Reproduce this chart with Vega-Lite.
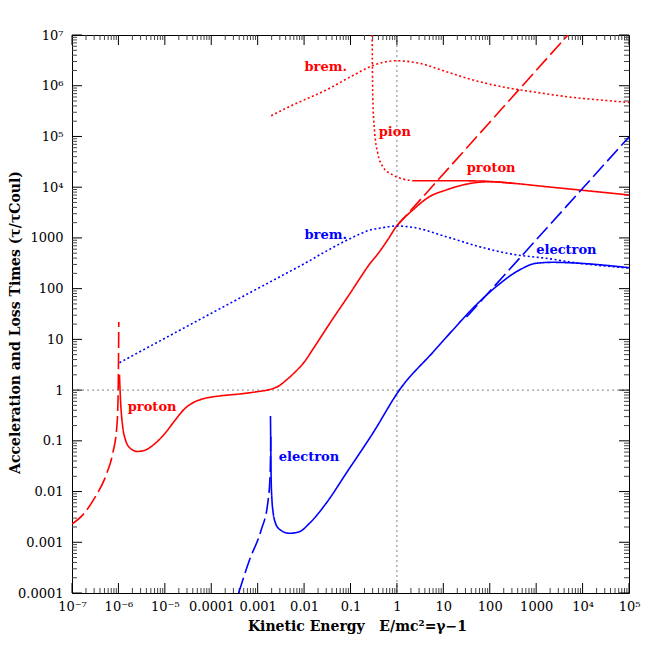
{
  "$schema": "https://vega.github.io/schema/vega-lite/v6.json",
  "width": 557,
  "height": 558,
  "autosize": {"type": "none"},
  "padding": {"left": 72, "top": 35, "right": 35, "bottom": 71},
  "background": "white",
  "config": {
    "view": {"stroke": "#000", "strokeWidth": 1},
    "axis": {"labelFont": "DejaVu Serif", "titleFont": "DejaVu Serif", "labelColor": "#000", "titleColor": "#000"}
  },
  "datasets": {
    "refs": [{"v": 1}],
    "xmaj": [{"v": 1e-7}, {"v": 1e-6}, {"v": 1e-5}, {"v": 0.0001}, {"v": 0.001}, {"v": 0.01}, {"v": 0.1}, {"v": 1}, {"v": 10}, {"v": 100}, {"v": 1000}, {"v": 10000}, {"v": 100000}],
    "ymaj": [{"v": 0.0001}, {"v": 0.001}, {"v": 0.01}, {"v": 0.1}, {"v": 1}, {"v": 10}, {"v": 100}, {"v": 1000}, {"v": 10000}, {"v": 100000}, {"v": 1000000}, {"v": 10000000}],
    "xmin": [
      {"v": 2e-7}, {"v": 3e-7}, {"v": 4e-7}, {"v": 5e-7}, {"v": 6e-7}, {"v": 7e-7}, {"v": 8e-7}, {"v": 9e-7},
      {"v": 2e-6}, {"v": 3e-6}, {"v": 4e-6}, {"v": 5e-6}, {"v": 6e-6}, {"v": 7e-6}, {"v": 8e-6}, {"v": 9e-6},
      {"v": 2e-5}, {"v": 3e-5}, {"v": 4e-5}, {"v": 5e-5}, {"v": 6e-5}, {"v": 7e-5}, {"v": 8e-5}, {"v": 9e-5},
      {"v": 0.0002}, {"v": 0.0003}, {"v": 0.0004}, {"v": 0.0005}, {"v": 0.0006}, {"v": 0.0007}, {"v": 0.0008}, {"v": 0.0009},
      {"v": 0.002}, {"v": 0.003}, {"v": 0.004}, {"v": 0.005}, {"v": 0.006}, {"v": 0.007}, {"v": 0.008}, {"v": 0.009},
      {"v": 0.02}, {"v": 0.03}, {"v": 0.04}, {"v": 0.05}, {"v": 0.06}, {"v": 0.07}, {"v": 0.08}, {"v": 0.09},
      {"v": 0.2}, {"v": 0.3}, {"v": 0.4}, {"v": 0.5}, {"v": 0.6}, {"v": 0.7}, {"v": 0.8}, {"v": 0.9},
      {"v": 2}, {"v": 3}, {"v": 4}, {"v": 5}, {"v": 6}, {"v": 7}, {"v": 8}, {"v": 9},
      {"v": 20}, {"v": 30}, {"v": 40}, {"v": 50}, {"v": 60}, {"v": 70}, {"v": 80}, {"v": 90},
      {"v": 200}, {"v": 300}, {"v": 400}, {"v": 500}, {"v": 600}, {"v": 700}, {"v": 800}, {"v": 900},
      {"v": 2000}, {"v": 3000}, {"v": 4000}, {"v": 5000}, {"v": 6000}, {"v": 7000}, {"v": 8000}, {"v": 9000},
      {"v": 20000}, {"v": 30000}, {"v": 40000}, {"v": 50000}, {"v": 60000}, {"v": 70000}, {"v": 80000}, {"v": 90000}
    ],
    "ymin": [
      {"v": 0.0002}, {"v": 0.0003}, {"v": 0.0004}, {"v": 0.0005}, {"v": 0.0006}, {"v": 0.0007}, {"v": 0.0008}, {"v": 0.0009},
      {"v": 0.002}, {"v": 0.003}, {"v": 0.004}, {"v": 0.005}, {"v": 0.006}, {"v": 0.007}, {"v": 0.008}, {"v": 0.009},
      {"v": 0.02}, {"v": 0.03}, {"v": 0.04}, {"v": 0.05}, {"v": 0.06}, {"v": 0.07}, {"v": 0.08}, {"v": 0.09},
      {"v": 0.2}, {"v": 0.3}, {"v": 0.4}, {"v": 0.5}, {"v": 0.6}, {"v": 0.7}, {"v": 0.8}, {"v": 0.9},
      {"v": 2}, {"v": 3}, {"v": 4}, {"v": 5}, {"v": 6}, {"v": 7}, {"v": 8}, {"v": 9},
      {"v": 20}, {"v": 30}, {"v": 40}, {"v": 50}, {"v": 60}, {"v": 70}, {"v": 80}, {"v": 90},
      {"v": 200}, {"v": 300}, {"v": 400}, {"v": 500}, {"v": 600}, {"v": 700}, {"v": 800}, {"v": 900},
      {"v": 2000}, {"v": 3000}, {"v": 4000}, {"v": 5000}, {"v": 6000}, {"v": 7000}, {"v": 8000}, {"v": 9000},
      {"v": 20000}, {"v": 30000}, {"v": 40000}, {"v": 50000}, {"v": 60000}, {"v": 70000}, {"v": 80000}, {"v": 90000},
      {"v": 200000}, {"v": 300000}, {"v": 400000}, {"v": 500000}, {"v": 600000}, {"v": 700000}, {"v": 800000}, {"v": 900000},
      {"v": 2000000}, {"v": 3000000}, {"v": 4000000}, {"v": 5000000}, {"v": 6000000}, {"v": 7000000}, {"v": 8000000}, {"v": 9000000}
    ],
    "labels": [
      {"t": "brem.", "p": "proton", "x": 0.0102, "y": 2340000},
      {"t": "pion", "p": "proton", "x": 0.406, "y": 122000},
      {"t": "proton", "p": "proton", "x": 32.0, "y": 23900},
      {"t": "brem.", "p": "electron", "x": 0.0102, "y": 1143},
      {"t": "electron", "p": "electron", "x": 1000, "y": 578},
      {"t": "proton", "p": "proton", "x": 1.59e-6, "y": 0.464},
      {"t": "electron", "p": "electron", "x": 0.00285, "y": 0.048}
    ],
    "curves": [
      {"c": "pS", "p": "proton", "k": "solid", "x": 1.054e-6, "y": 1.995},
      {"c": "pS", "p": "proton", "k": "solid", "x": 1.109e-6, "y": 0.638},
      {"c": "pS", "p": "proton", "k": "solid", "x": 1.2246e-6, "y": 0.2051},
      {"c": "pS", "p": "proton", "k": "solid", "x": 1.422e-6, "y": 0.104},
      {"c": "pS", "p": "proton", "k": "solid", "x": 1.82e-6, "y": 0.0706},
      {"c": "pS", "p": "proton", "k": "solid", "x": 2.576e-6, "y": 0.0617},
      {"c": "pS", "p": "proton", "k": "solid", "x": 3.828e-6, "y": 0.0659},
      {"c": "pS", "p": "proton", "k": "solid", "x": 5.984e-6, "y": 0.0867},
      {"c": "pS", "p": "proton", "k": "solid", "x": 9.84e-6, "y": 0.1365},
      {"c": "pS", "p": "proton", "k": "solid", "x": 1.614e-5, "y": 0.246},
      {"c": "pS", "p": "proton", "k": "solid", "x": 2.649e-5, "y": 0.4246},
      {"c": "pS", "p": "proton", "k": "solid", "x": 4.355e-5, "y": 0.5834},
      {"c": "pS", "p": "proton", "k": "solid", "x": 7.145e-5, "y": 0.684},
      {"c": "pS", "p": "proton", "k": "solid", "x": 1.507e-4, "y": 0.766},
      {"c": "pS", "p": "proton", "k": "solid", "x": 4.064e-4, "y": 0.8375},
      {"c": "pS", "p": "proton", "k": "solid", "x": 9.91e-4, "y": 0.933},
      {"c": "pS", "p": "proton", "k": "solid", "x": 1.799e-3, "y": 1.023},
      {"c": "pS", "p": "proton", "k": "solid", "x": 2.951e-3, "y": 1.23},
      {"c": "pS", "p": "proton", "k": "solid", "x": 4.169e-3, "y": 1.585},
      {"c": "pS", "p": "proton", "k": "solid", "x": 6.31e-3, "y": 2.239},
      {"c": "pS", "p": "proton", "k": "solid", "x": 0.01, "y": 3.548},
      {"c": "pS", "p": "proton", "k": "solid", "x": 0.01585, "y": 6.607},
      {"c": "pS", "p": "proton", "k": "solid", "x": 0.02512, "y": 12.59},
      {"c": "pS", "p": "proton", "k": "solid", "x": 0.03981, "y": 23.99},
      {"c": "pS", "p": "proton", "k": "solid", "x": 0.0631, "y": 44.67},
      {"c": "pS", "p": "proton", "k": "solid", "x": 0.1, "y": 83.18},
      {"c": "pS", "p": "proton", "k": "solid", "x": 0.1585, "y": 158.5},
      {"c": "pS", "p": "proton", "k": "solid", "x": 0.2512, "y": 295.1},
      {"c": "pS", "p": "proton", "k": "solid", "x": 0.4207, "y": 534.6},
      {"c": "pS", "p": "proton", "k": "solid", "x": 0.631, "y": 912},
      {"c": "pS", "p": "proton", "k": "solid", "x": 0.9638, "y": 1663},
      {"c": "pS", "p": "proton", "k": "solid", "x": 2.198, "y": 3548},
      {"c": "pS", "p": "proton", "k": "solid", "x": 5.035, "y": 6501},
      {"c": "pS", "p": "proton", "k": "solid", "x": 11.51, "y": 8810},
      {"c": "pS", "p": "proton", "k": "solid", "x": 26.24, "y": 11040},
      {"c": "pS", "p": "proton", "k": "solid", "x": 98.6, "y": 12823},
      {"c": "pS", "p": "proton", "k": "solid", "x": 313.3, "y": 11940},
      {"c": "pS", "p": "proton", "k": "solid", "x": 1641, "y": 10233},
      {"c": "pS", "p": "proton", "k": "solid", "x": 8570, "y": 8810},
      {"c": "pS", "p": "proton", "k": "solid", "x": 100000, "y": 7015},
      {"c": "pS2", "p": "proton", "k": "solid", "x": 2.198, "y": 13428},
      {"c": "pS2", "p": "proton", "k": "solid", "x": 11.51, "y": 13428},
      {"c": "pS2", "p": "proton", "k": "solid", "x": 60.1, "y": 13243},
      {"c": "pS2", "p": "proton", "k": "solid", "x": 158.5, "y": 12589},
      {"c": "pS2", "p": "proton", "k": "solid", "x": 313.3, "y": 11940},
      {"c": "pDl", "p": "proton", "k": "dashed", "x": 1e-7, "y": 0.002291},
      {"c": "pDl", "p": "proton", "k": "dashed", "x": 1.71e-7, "y": 0.003467},
      {"c": "pDl", "p": "proton", "k": "dashed", "x": 3.055e-7, "y": 0.007413},
      {"c": "pDl", "p": "proton", "k": "dashed", "x": 5.458e-7, "y": 0.02138},
      {"c": "pDl", "p": "proton", "k": "dashed", "x": 7.568e-7, "y": 0.05754},
      {"c": "pDl", "p": "proton", "k": "dashed", "x": 9.226e-7, "y": 0.1862},
      {"c": "pDl", "p": "proton", "k": "dashed", "x": 9.795e-7, "y": 0.638},
      {"c": "pDl", "p": "proton", "k": "dashed", "x": 1.0046e-6, "y": 3.926},
      {"c": "pDl", "p": "proton", "k": "dashed", "x": 1.0186e-6, "y": 21.88},
      {"c": "pDh", "p": "proton", "k": "dashed", "x": 0.9638, "y": 1663},
      {"c": "pDh", "p": "proton", "k": "dashed", "x": 4831, "y": 10000000},
      {"c": "pB", "p": "proton", "k": "dotted", "x": 1.954e-3, "y": 256400},
      {"c": "pB", "p": "proton", "k": "dotted", "x": 5.715e-3, "y": 416900},
      {"c": "pB", "p": "proton", "k": "dotted", "x": 0.02992, "y": 824100},
      {"c": "pB", "p": "proton", "k": "dotted", "x": 0.1119, "y": 1585000},
      {"c": "pB", "p": "proton", "k": "dotted", "x": 0.302, "y": 2500000},
      {"c": "pB", "p": "proton", "k": "dotted", "x": 0.9638, "y": 3112000},
      {"c": "pB", "p": "proton", "k": "dotted", "x": 3.062, "y": 2767000},
      {"c": "pB", "p": "proton", "k": "dotted", "x": 11.51, "y": 1892000},
      {"c": "pB", "p": "proton", "k": "dotted", "x": 31.62, "y": 1413000},
      {"c": "pB", "p": "proton", "k": "dotted", "x": 100, "y": 1072000},
      {"c": "pB", "p": "proton", "k": "dotted", "x": 316.2, "y": 871000},
      {"c": "pB", "p": "proton", "k": "dotted", "x": 1000, "y": 741300},
      {"c": "pB", "p": "proton", "k": "dotted", "x": 3177, "y": 635300},
      {"c": "pB", "p": "proton", "k": "dotted", "x": 10000, "y": 562300},
      {"c": "pB", "p": "proton", "k": "dotted", "x": 31623, "y": 512900},
      {"c": "pB", "p": "proton", "k": "dotted", "x": 100000, "y": 467700},
      {"c": "pP", "p": "proton", "k": "dotted", "x": 0.2931, "y": 10000000},
      {"c": "pP", "p": "proton", "k": "dotted", "x": 0.2958, "y": 3214000},
      {"c": "pP", "p": "proton", "k": "dotted", "x": 0.302, "y": 608100},
      {"c": "pP", "p": "proton", "k": "dotted", "x": 0.3281, "y": 134000},
      {"c": "pP", "p": "proton", "k": "dotted", "x": 0.3873, "y": 46560},
      {"c": "pP", "p": "proton", "k": "dotted", "x": 0.4955, "y": 25350},
      {"c": "pP", "p": "proton", "k": "dotted", "x": 0.8147, "y": 17380},
      {"c": "pP", "p": "proton", "k": "dotted", "x": 1.337, "y": 14490},
      {"c": "pP", "p": "proton", "k": "dotted", "x": 2.198, "y": 13430},
      {"c": "eS", "p": "electron", "k": "solid", "x": 1.888e-3, "y": 0.309},
      {"c": "eS", "p": "electron", "k": "solid", "x": 1.919e-3, "y": 0.0659},
      {"c": "eS", "p": "electron", "k": "solid", "x": 1.954e-3, "y": 0.0169},
      {"c": "eS", "p": "electron", "k": "solid", "x": 2.032e-3, "y": 0.006823},
      {"c": "eS", "p": "electron", "k": "solid", "x": 2.15e-3, "y": 0.0039},
      {"c": "eS", "p": "electron", "k": "solid", "x": 2.301e-3, "y": 0.002754},
      {"c": "eS", "p": "electron", "k": "solid", "x": 2.951e-3, "y": 0.001803},
      {"c": "eS", "p": "electron", "k": "solid", "x": 4.842e-3, "y": 0.001503},
      {"c": "eS", "p": "electron", "k": "solid", "x": 7.962e-3, "y": 0.001618},
      {"c": "eS", "p": "electron", "k": "solid", "x": 0.01306, "y": 0.002366},
      {"c": "eS", "p": "electron", "k": "solid", "x": 0.02992, "y": 0.005875},
      {"c": "eS", "p": "electron", "k": "solid", "x": 0.08072, "y": 0.02291},
      {"c": "eS", "p": "electron", "k": "solid", "x": 0.302, "y": 0.1409},
      {"c": "eS", "p": "electron", "k": "solid", "x": 1.135, "y": 1.005},
      {"c": "eS", "p": "electron", "k": "solid", "x": 6.31, "y": 5.888},
      {"c": "eS", "p": "electron", "k": "solid", "x": 15.85, "y": 15.14},
      {"c": "eS", "p": "electron", "k": "solid", "x": 39.81, "y": 37.93},
      {"c": "eS", "p": "electron", "k": "solid", "x": 137.4, "y": 109.4},
      {"c": "eS", "p": "electron", "k": "solid", "x": 436.5, "y": 233.3},
      {"c": "eS", "p": "electron", "k": "solid", "x": 1000, "y": 316.2},
      {"c": "eS", "p": "electron", "k": "solid", "x": 2280, "y": 330.4},
      {"c": "eS", "p": "electron", "k": "solid", "x": 8570, "y": 316.2},
      {"c": "eS", "p": "electron", "k": "solid", "x": 100000, "y": 258.8},
      {"c": "eDl", "p": "electron", "k": "dashed", "x": 3.89e-4, "y": 0.0001},
      {"c": "eDl", "p": "electron", "k": "dashed", "x": 6.668e-4, "y": 0.0004477},
      {"c": "eDl", "p": "electron", "k": "dashed", "x": 1.191e-3, "y": 0.001746},
      {"c": "eDl", "p": "electron", "k": "dashed", "x": 1.652e-3, "y": 0.005957},
      {"c": "eDl", "p": "electron", "k": "dashed", "x": 1.862e-3, "y": 0.02323},
      {"c": "eDl", "p": "electron", "k": "dashed", "x": 1.919e-3, "y": 0.1208},
      {"c": "eDh", "p": "electron", "k": "dashed", "x": 31.62, "y": 27.54},
      {"c": "eDh", "p": "electron", "k": "dashed", "x": 100000, "y": 97724},
      {"c": "eB", "p": "electron", "k": "dotted", "x": 1.054e-6, "y": 3.467},
      {"c": "eB", "p": "electron", "k": "dotted", "x": 3.443e-4, "y": 59.7},
      {"c": "eB", "p": "electron", "k": "dotted", "x": 3.162e-3, "y": 175.8},
      {"c": "eB", "p": "electron", "k": "dotted", "x": 0.01, "y": 309},
      {"c": "eB", "p": "electron", "k": "dotted", "x": 0.03162, "y": 562.3},
      {"c": "eB", "p": "electron", "k": "dotted", "x": 0.1, "y": 977.2},
      {"c": "eB", "p": "electron", "k": "dotted", "x": 0.302, "y": 1479},
      {"c": "eB", "p": "electron", "k": "dotted", "x": 0.4207, "y": 1549},
      {"c": "eB", "p": "electron", "k": "dotted", "x": 0.9638, "y": 1718},
      {"c": "eB", "p": "electron", "k": "dotted", "x": 2.198, "y": 1618},
      {"c": "eB", "p": "electron", "k": "dotted", "x": 11.51, "y": 1057},
      {"c": "eB", "p": "electron", "k": "dotted", "x": 60.12, "y": 671.4},
      {"c": "eB", "p": "electron", "k": "dotted", "x": 313.3, "y": 475.3},
      {"c": "eB", "p": "electron", "k": "dotted", "x": 1641, "y": 396.3},
      {"c": "eB", "p": "electron", "k": "dotted", "x": 8570, "y": 316.2},
      {"c": "eB", "p": "electron", "k": "dotted", "x": 97724, "y": 255.3}
    ]
  },
  "layer": [
    {
      "data": {"name": "refs"},
      "mark": {"type": "rule", "color": "#808080", "strokeDash": [2, 3], "strokeWidth": 1},
      "encoding": {
        "x": {"field": "v", "type": "quantitative", "scale": {"type": "log", "domain": [1e-7, 100000], "nice": false}, "axis": null}
      }
    },
    {
      "data": {"name": "refs"},
      "mark": {"type": "rule", "color": "#808080", "strokeDash": [2, 3], "strokeWidth": 1},
      "encoding": {
        "y": {"field": "v", "type": "quantitative", "scale": {"type": "log", "domain": [0.0001, 10000000], "nice": false}, "axis": null}
      }
    },
    {
      "data": {"name": "xmaj"},
      "mark": {"type": "tick", "orient": "vertical", "size": 10, "thickness": 1, "yOffset": -5, "color": "#000", "opacity": 1},
      "encoding": {
        "x": {"field": "v", "type": "quantitative", "scale": {"type": "log", "domain": [1e-7, 100000], "nice": false}, "axis": null},
        "y": {"datum": 0.0001, "type": "quantitative", "scale": {"type": "log", "domain": [0.0001, 10000000], "nice": false}, "axis": null}
      }
    },
    {
      "data": {"name": "xmaj"},
      "mark": {"type": "tick", "orient": "vertical", "size": 10, "thickness": 1, "yOffset": 5, "color": "#000", "opacity": 1},
      "encoding": {
        "x": {"field": "v", "type": "quantitative", "scale": {"type": "log", "domain": [1e-7, 100000], "nice": false}, "axis": null},
        "y": {"datum": 10000000, "type": "quantitative", "scale": {"type": "log", "domain": [0.0001, 10000000], "nice": false}, "axis": null}
      }
    },
    {
      "data": {"name": "xmin"},
      "mark": {"type": "tick", "orient": "vertical", "size": 5, "thickness": 1, "yOffset": -2.5, "color": "#444", "opacity": 1},
      "encoding": {
        "x": {"field": "v", "type": "quantitative", "scale": {"type": "log", "domain": [1e-7, 100000], "nice": false}, "axis": null},
        "y": {"datum": 0.0001, "type": "quantitative", "scale": {"type": "log", "domain": [0.0001, 10000000], "nice": false}, "axis": null}
      }
    },
    {
      "data": {"name": "xmin"},
      "mark": {"type": "tick", "orient": "vertical", "size": 5, "thickness": 1, "yOffset": 2.5, "color": "#444", "opacity": 1},
      "encoding": {
        "x": {"field": "v", "type": "quantitative", "scale": {"type": "log", "domain": [1e-7, 100000], "nice": false}, "axis": null},
        "y": {"datum": 10000000, "type": "quantitative", "scale": {"type": "log", "domain": [0.0001, 10000000], "nice": false}, "axis": null}
      }
    },
    {
      "data": {"name": "ymaj"},
      "mark": {"type": "tick", "orient": "horizontal", "size": 10, "thickness": 1, "xOffset": 5, "color": "#000", "opacity": 1},
      "encoding": {
        "y": {"field": "v", "type": "quantitative", "scale": {"type": "log", "domain": [0.0001, 10000000], "nice": false}, "axis": null},
        "x": {"datum": 1e-7, "type": "quantitative", "scale": {"type": "log", "domain": [1e-7, 100000], "nice": false}, "axis": null}
      }
    },
    {
      "data": {"name": "ymaj"},
      "mark": {"type": "tick", "orient": "horizontal", "size": 10, "thickness": 1, "xOffset": -5, "color": "#000", "opacity": 1},
      "encoding": {
        "y": {"field": "v", "type": "quantitative", "scale": {"type": "log", "domain": [0.0001, 10000000], "nice": false}, "axis": null},
        "x": {"datum": 100000, "type": "quantitative", "scale": {"type": "log", "domain": [1e-7, 100000], "nice": false}, "axis": null}
      }
    },
    {
      "data": {"name": "ymin"},
      "mark": {"type": "tick", "orient": "horizontal", "size": 5, "thickness": 1, "xOffset": 2.5, "color": "#444", "opacity": 1},
      "encoding": {
        "y": {"field": "v", "type": "quantitative", "scale": {"type": "log", "domain": [0.0001, 10000000], "nice": false}, "axis": null},
        "x": {"datum": 1e-7, "type": "quantitative", "scale": {"type": "log", "domain": [1e-7, 100000], "nice": false}, "axis": null}
      }
    },
    {
      "data": {"name": "ymin"},
      "mark": {"type": "tick", "orient": "horizontal", "size": 5, "thickness": 1, "xOffset": -2.5, "color": "#444", "opacity": 1},
      "encoding": {
        "y": {"field": "v", "type": "quantitative", "scale": {"type": "log", "domain": [0.0001, 10000000], "nice": false}, "axis": null},
        "x": {"datum": 100000, "type": "quantitative", "scale": {"type": "log", "domain": [1e-7, 100000], "nice": false}, "axis": null}
      }
    },
    {
      "data": {"name": "curves"},
      "transform": [{"filter": "datum.p == 'proton'"}],
      "mark": {"type": "line", "strokeWidth": 1.6, "clip": true, "interpolate": "monotone"},
      "encoding": {
        "x": {"field": "x", "type": "quantitative", "scale": {"type": "log", "domain": [1e-7, 100000], "nice": false},
              "axis": {"orient": "bottom", "values": [1e-7, 1e-6, 1e-5, 0.0001, 0.001, 0.01, 0.1, 1, 10, 100, 1000, 10000, 100000],
                       "labelExpr": "datum.value < 5e-7 ? '10⁻⁷' : datum.value < 5e-6 ? '10⁻⁶' : datum.value < 5e-5 ? '10⁻⁵' : datum.value < 5e-4 ? '0.0001' : datum.value < 5e-3 ? '0.001' : datum.value < 0.05 ? '0.01' : datum.value < 0.5 ? '0.1' : datum.value < 5 ? '1' : datum.value < 50 ? '10' : datum.value < 500 ? '100' : datum.value < 5000 ? '1000' : datum.value < 50000 ? '10⁴' : datum.value < 500000 ? '10⁵' : datum.value < 5000000 ? '10⁶' : '10⁷'",
                       "ticks": false, "grid": false,
                       "labelPadding": 7, "labelFontSize": 13, "labelOverlap": false, "labelFlush": false, "domain": false,
                       "title": "Kinetic Energy\u00a0\u00a0\u00a0E/mc²=γ−1", "titleFontSize": 14, "titleFontWeight": "bold", "titleX": 285, "titleY": 33, "titleAlign": "center", "titleBaseline": "middle"}},
        "y": {"field": "y", "type": "quantitative", "scale": {"type": "log", "domain": [0.0001, 10000000], "nice": false},
              "axis": {"orient": "left", "values": [0.0001, 0.001, 0.01, 0.1, 1, 10, 100, 1000, 10000, 100000, 1000000, 10000000],
                       "labelExpr": "datum.value < 5e-7 ? '10⁻⁷' : datum.value < 5e-6 ? '10⁻⁶' : datum.value < 5e-5 ? '10⁻⁵' : datum.value < 5e-4 ? '0.0001' : datum.value < 5e-3 ? '0.001' : datum.value < 0.05 ? '0.01' : datum.value < 0.5 ? '0.1' : datum.value < 5 ? '1' : datum.value < 50 ? '10' : datum.value < 500 ? '100' : datum.value < 5000 ? '1000' : datum.value < 50000 ? '10⁴' : datum.value < 500000 ? '10⁵' : datum.value < 5000000 ? '10⁶' : '10⁷'",
                       "ticks": false, "grid": false,
                       "labelPadding": 9, "labelFontSize": 13, "labelOverlap": false, "labelFlush": false, "domain": false,
                       "title": "Acceleration and Loss Times (τ/τCoul)", "titleFontSize": 14, "titleFontWeight": "bold", "titleX": -57, "titleY": 287, "titleAngle": -90, "titleAlign": "center", "titleBaseline": "middle"}},
        "color": {"field": "p", "type": "nominal", "scale": {"domain": ["proton", "electron"], "range": ["#ff0000", "#0000ff"]}, "legend": null},
        "strokeDash": {"field": "k", "type": "nominal", "scale": {"domain": ["solid", "dashed", "dotted"], "range": [[1, 0], [16, 5], [2, 2.5]]}, "legend": null},
        "detail": {"field": "c"}
      }
    },
    {
      "data": {"name": "curves"},
      "transform": [{"filter": "datum.p == 'electron'"}],
      "mark": {"type": "line", "strokeWidth": 1.6, "clip": true, "interpolate": "monotone"},
      "encoding": {
        "x": {"field": "x", "type": "quantitative", "scale": {"type": "log", "domain": [1e-7, 100000], "nice": false}, "axis": null},
        "y": {"field": "y", "type": "quantitative", "scale": {"type": "log", "domain": [0.0001, 10000000], "nice": false}, "axis": null},
        "color": {"field": "p", "type": "nominal", "scale": {"domain": ["proton", "electron"], "range": ["#ff0000", "#0000ff"]}, "legend": null},
        "strokeDash": {"field": "k", "type": "nominal", "scale": {"domain": ["solid", "dashed", "dotted"], "range": [[1, 0], [16, 5], [2, 2.5]]}, "legend": null},
        "detail": {"field": "c"}
      }
    },
    {
      "data": {"name": "labels"},
      "mark": {"type": "text", "align": "left", "baseline": "middle", "font": "DejaVu Serif", "fontWeight": "bold", "fontSize": 13},
      "encoding": {
        "x": {"field": "x", "type": "quantitative", "scale": {"type": "log", "domain": [1e-7, 100000], "nice": false}, "axis": null},
        "y": {"field": "y", "type": "quantitative", "scale": {"type": "log", "domain": [0.0001, 10000000], "nice": false}, "axis": null},
        "text": {"field": "t"},
        "color": {"field": "p", "type": "nominal", "scale": {"domain": ["proton", "electron"], "range": ["#ff0000", "#0000ff"]}, "legend": null}
      }
    }
  ],
  "resolve": {"axis": {"x": "independent", "y": "independent"}}
}
